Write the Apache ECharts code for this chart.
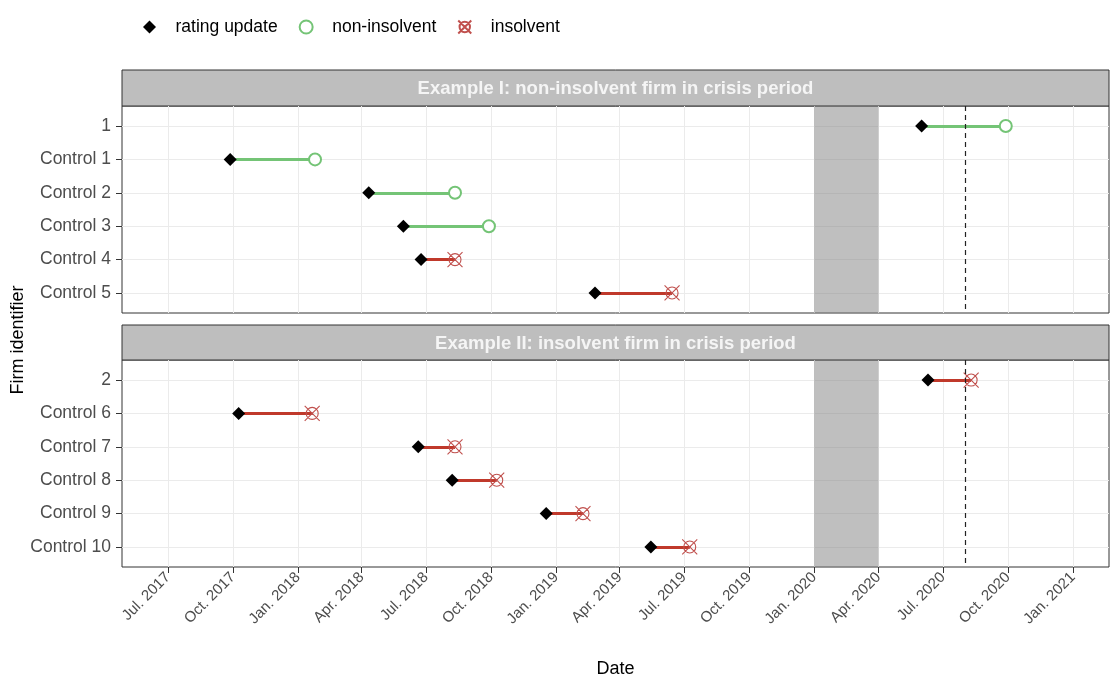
<!DOCTYPE html>
<html>
<head>
<meta charset="utf-8">
<script src="https://cdn.jsdelivr.net/npm/echarts@6/dist/echarts.min.js"></script>
<style>
  html, body { margin: 0; padding: 0; background: #fff; }
  #chart { width: 1110px; height: 677px; }
</style>
</head>
<body>
<div id="chart"></div>
<script>
// panel I
const firms1 = ["1", "Control 1", "Control 2", "Control 3", "Control 4", "Control 5"];
const update1 = ["2020-06-01", "2017-09-27", "2018-04-11", "2018-05-30", "2018-06-24", "2019-02-25"];
const outcome1 = ["2020-09-28", "2018-01-25", "2018-08-11", "2018-09-28", "2018-08-11", "2019-06-14"];
const status1 = ["non-insolvent", "non-insolvent", "non-insolvent", "non-insolvent", "insolvent", "insolvent"];

// panel II
const firms2 = ["2", "Control 6", "Control 7", "Control 8", "Control 9", "Control 10"];
const update2 = ["2020-06-10", "2017-10-09", "2018-06-20", "2018-08-07", "2018-12-18", "2019-05-15"];
const outcome2 = ["2020-08-10", "2018-01-21", "2018-08-11", "2018-10-09", "2019-02-08", "2019-07-09"];
const status2 = ["insolvent", "insolvent", "insolvent", "insolvent", "insolvent", "insolvent"];

const panelTitles = ["Example I: non-insolvent firm in crisis period", "Example II: insolvent firm in crisis period"];
const crisisPeriod = ["2020-01-01", "2020-04-01"];
const eventDate = "2020-08-01";
const xRange = ["2017-04-27", "2021-02-21"];
const tickDates = [
  "2017-07-01", "2017-10-01", "2018-01-01", "2018-04-01", "2018-07-01", "2018-10-01",
  "2019-01-01", "2019-04-01", "2019-07-01", "2019-10-01", "2020-01-01", "2020-04-01",
  "2020-07-01", "2020-10-01", "2021-01-01"
];
const monthNames = { 0: "Jan.", 3: "Apr.", 6: "Jul.", 9: "Oct." };

const FONT = "'Liberation Sans', Arial, sans-serif";
const GREEN = "#74c476";
const RED = "#c0392b";
const RED_MARK = "#c0504d";
const CROSS = "path://M0,0L20,20M20,0L0,20M2,10A8,8,0,1,1,18,10A8,8,0,1,1,2,10Z";
const DIAMOND = "path://M10,0L20,10L10,20L0,10Z";

// dates -> timestamps (value axis, so ticks can sit on quarter starts)
function t(s) {
  const p = s.split("-").map(Number);
  return new Date(p[0], p[1] - 1, p[2]).getTime();
}

const ticks = tickDates.map(t);
const grids = [
  { left: 122, right: 1, top: 106, height: 207 },
  { left: 122, right: 1, top: 360, height: 207 }
];
const stripTops = [70, 325];

const chart = echarts.init(document.getElementById("chart"));

function makeX(i) {
  const last = i === 1;
  return {
    type: "value",
    gridIndex: i,
    min: t(xRange[0]),
    max: t(xRange[1]),
    axisLine: { show: false, onZero: false },
    axisTick: { show: last, customValues: ticks, length: 6, lineStyle: { color: "#333" } },
    axisLabel: {
      show: last,
      customValues: ticks,
      rotate: 45,
      margin: 8,
      fontFamily: FONT,
      fontSize: 15,
      color: "#4d4d4d",
      formatter: (v) => {
        const d = new Date(v);
        return monthNames[d.getMonth()] + " " + d.getFullYear();
      }
    },
    splitLine: { show: true, lineStyle: { color: "#ebebeb", width: 1 } },
    name: last ? "Date" : "",
    nameLocation: "middle",
    nameGap: 93,
    nameMoveOverlap: false,
    nameTextStyle: { fontFamily: FONT, fontSize: 18, color: "#000" }
  };
}

function makeY(i, names) {
  return {
    type: "value",
    gridIndex: i,
    min: -0.6,
    max: 5.6,
    inverse: true,
    axisLine: { show: false, onZero: false },
    axisTick: { show: true, customValues: [0, 1, 2, 3, 4, 5], length: 6, lineStyle: { color: "#333" } },
    axisLabel: {
      customValues: [0, 1, 2, 3, 4, 5],
      margin: 11,
      fontFamily: FONT,
      fontSize: 17.5,
      color: "#4d4d4d",
      formatter: (v) => names[Math.round(v)] || ""
    },
    splitLine: { show: true, lineStyle: { color: "#ebebeb", width: 1 } }
  };
}

function panelSeries(i, updates, outcomes, status) {
  const segs = updates.map((u, k) => ({
    coords: [[t(u), k], [t(outcomes[k]), k]],
    lineStyle: { color: status[k] === "insolvent" ? RED : GREEN }
  }));
  const ok = [], bad = [];
  outcomes.forEach((o, k) => {
    (status[k] === "insolvent" ? bad : ok).push([t(o), k]);
  });
  return [
    {
      name: "segments",
      type: "lines",
      coordinateSystem: "cartesian2d",
      xAxisIndex: i,
      yAxisIndex: i,
      silent: true,
      lineStyle: { width: 2.8, opacity: 1 },
      data: segs,
      markArea: {
        silent: true,
        itemStyle: { color: "rgba(128,128,128,0.5)" },
        data: [[{ xAxis: t(crisisPeriod[0]) }, { xAxis: t(crisisPeriod[1]) }]]
      },
      markLine: {
        silent: true,
        symbol: "none",
        label: { show: false },
        lineStyle: { color: "#222", type: [5, 4], width: 1.2 },
        data: [{ xAxis: t(eventDate) }]
      },
      z: 2
    },
    {
      name: "non-insolvent",
      type: "scatter",
      xAxisIndex: i,
      yAxisIndex: i,
      symbol: "emptyCircle",
      symbolSize: 12,
      symbolKeepAspect: true,
      itemStyle: { color: GREEN, borderColor: GREEN, borderWidth: 1.3, opacity: 1 },
      data: ok,
      z: 3
    },
    {
      name: "insolvent",
      type: "scatter",
      xAxisIndex: i,
      yAxisIndex: i,
      symbol: CROSS,
      symbolSize: 15,
      symbolKeepAspect: true,
      itemStyle: { color: "rgba(0,0,0,0)", borderColor: RED_MARK, borderWidth: 1.1, opacity: 1 },
      data: bad,
      z: 3
    },
    {
      name: "rating update",
      type: "scatter",
      xAxisIndex: i,
      yAxisIndex: i,
      symbol: DIAMOND,
      symbolSize: 13,
      symbolKeepAspect: true,
      itemStyle: { color: "#000", opacity: 1 },
      data: updates.map((u, k) => [t(u), k]),
      z: 4
    }
  ];
}

const graphics = [];
stripTops.forEach((top, i) => {
  const h = grids[i].top - top;
  graphics.push({
    type: "rect",
    shape: { x: 122, y: top, width: 987, height: h },
    style: { fill: "#bebebe", stroke: "#333", lineWidth: 1 },
    silent: true
  });
  graphics.push({
    type: "text",
    x: 122 + 987 / 2,
    y: top + h / 2 + 1,
    style: {
      text: panelTitles[i],
      fill: "#f5f5f5",
      font: "bold 18.5px " + FONT,
      align: "center",
      verticalAlign: "middle"
    },
    silent: true
  });
});
graphics.push({
  type: "text",
  x: 18,
  y: 340,
  rotation: Math.PI / 2,
  style: {
    text: "Firm identifier",
    fill: "#000",
    font: "18px " + FONT,
    align: "center",
    verticalAlign: "middle"
  },
  silent: true
});

const option = {
  animation: false,
  backgroundColor: "#fff",
  textStyle: { fontFamily: FONT },
  legend: {
    left: 138,
    top: 13,
    itemWidth: 42,
    itemHeight: 13,
    itemGap: 21,
    symbolKeepAspect: true,
    textStyle: { fontFamily: FONT, fontSize: 17.5, color: "#000" },
    data: ["rating update", "non-insolvent", "insolvent"]
  },
  grid: grids.map((g) => Object.assign({
    show: true, borderColor: "#333", borderWidth: 1, backgroundColor: "#fff",
    outerBoundsMode: "none", containLabel: false
  }, g)),
  xAxis: [makeX(0), makeX(1)],
  yAxis: [makeY(0, firms1), makeY(1, firms2)],
  graphic: graphics,
  series: [].concat(
    panelSeries(0, update1, outcome1, status1),
    panelSeries(1, update2, outcome2, status2)
  )
};

chart.setOption(option);
</script>
</body>
</html>
